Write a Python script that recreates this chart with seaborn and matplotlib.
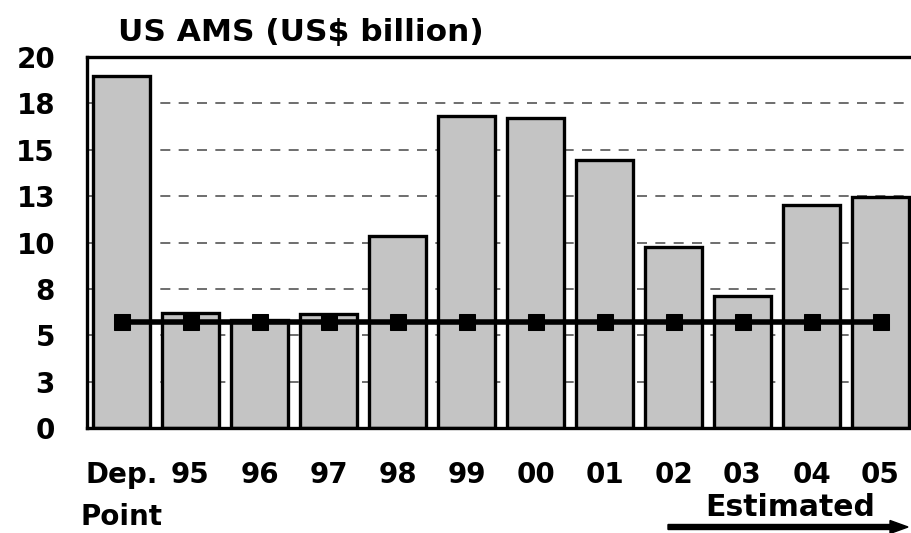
import numpy as np
import seaborn as sns
import matplotlib.pyplot as plt
from matplotlib.patches import FancyArrow

years = ["Dep.\nPoint", "95", "96", "97", "98", "99", "00", "01", "02", "03", "04", "05"]
ams = [19.0, 6.2, 5.8, 6.15, 10.35, 16.8, 16.7, 14.45, 9.75, 7.1, 12.0, 12.45]
limit = [5.7] * 12
yticks = [0, 2.5, 5, 7.5, 10, 12.5, 15, 17.5, 20]
ytick_labels = ["0", "3", "5", "8", "10", "13", "15", "18", "20"]

sns.set_style("white")
plt.rcParams['font.family'] = ['DejaVu Sans']
plt.rcParams['font.weight'] = 'bold'
plt.rcParams['text.color'] = 'black'
plt.rcParams['xtick.color'] = 'black'
plt.rcParams['ytick.color'] = 'black'

fig = plt.figure(figsize=(9.12, 5.33), dpi=100)
ax = fig.add_axes([87 / 912, 105 / 533, 828 / 912, 371 / 533])

sns.barplot(x=years, y=ams, color="#c4c4c4", edgecolor="black",
            linewidth=2.4, width=0.84, saturation=1, ax=ax, zorder=2)
sns.lineplot(x=np.arange(len(years)), y=limit, color="black", linewidth=4,
             marker="s", markersize=12, markeredgecolor="black", ax=ax, zorder=3)

ax.set_xlim(-0.5, 11.5)
ax.set_ylim(0, 20)
ax.set_yticks(yticks)
ax.set_yticklabels(ytick_labels)
ax.set_xticks(np.arange(len(years)) - 0.5, minor=False)
ax.set_xticklabels([])
ax.set_xticks(np.arange(len(years)), minor=True)
ax.set_xticklabels(years, minor=True)
ax.tick_params(axis="x", which="major", direction="out", length=7, width=2.2, color="black")
ax.tick_params(axis="x", which="minor", length=0, pad=24, labelsize=20, labelcolor="black")
ax.tick_params(axis="y", direction="out", length=11, width=2.2, color="black",
               labelsize=20, pad=12, labelcolor="black")
for lab in ax.get_xticklabels(minor=True):
    lab.set_fontweight("bold")
    lab.set_linespacing(1.6)
for lab in ax.get_yticklabels():
    lab.set_fontweight("bold")

ax.grid(axis="y", linestyle=(0, (6, 5)), color="#555555", linewidth=1.2, zorder=0)
ax.set_axisbelow(True)
for side in ["left", "bottom", "top", "right"]:
    ax.spines[side].set_color("black")
    ax.spines[side].set_linewidth(2.4)
ax.set_xlabel("")
ax.set_ylabel("")

fig.text(118 / 912, 1 - 32 / 533, "US AMS (US$ billion)", fontsize=22.5, fontweight="bold",
         va="center", ha="left", color="black")
fig.text(790 / 912, 1 - 507 / 533, "Estimated", fontsize=21.5, fontweight="bold",
         va="center", ha="center", color="black")
fig.patches.append(FancyArrow(
    668 / 912, 1 - 527 / 533, 222 / 912, 0, width=5 / 533, head_width=13 / 533,
    head_length=18 / 912, length_includes_head=False, color="black",
    transform=fig.transFigure, figure=fig))

fig.savefig("out.png", dpi=100)
